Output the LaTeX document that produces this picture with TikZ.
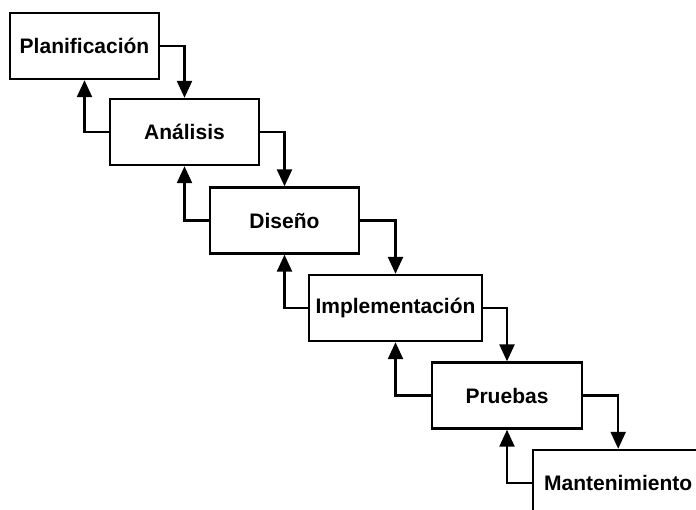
\documentclass[tikz,border=0pt]{standalone}
\usepackage{fontspec}
\setmainfont{Liberation Sans}
\usetikzlibrary{arrows.meta}
\begin{document}
\begin{tikzpicture}[x=1pt,y=-1pt,
  stage/.style={draw, line width=2.4pt, minimum height=66pt, minimum width=149pt,
    inner sep=0pt, fill=white, font=\fontsize{21}{24}\selectfont\bfseries},
  link/.style={line width=2.4pt, -{Triangle[width=15pt,length=17pt]}}]
\useasboundingbox (0,0) rectangle (696,509);
\clip (0,0) rectangle (696,509);

% waterfall stages
\node[stage] (plan) at (84.5,46) {Planificación};
\node[stage] (ana)  at (184.5,132) {Análisis};
\node[stage] (dis)  at (284.5,220.5) {Diseño};
\node[stage, minimum width=173pt] (imp) at (395.5,308) {Implementación};
\node[stage, minimum width=150pt] (pru) at (507,395.5) {Pruebas};
\node[stage, minimum width=170pt, anchor=west] (man) at (532,483) {Mantenimiento};

% forward flow
\draw[link] (plan.east) -| (ana.north);
\draw[link] (ana.east)  -| (dis.north);
\draw[link] (dis.east)  -| (imp.north);
\draw[link] (imp.east)  -| (pru.north);
\draw[link] (pru.east)  -| (man.north);

% feedback
\draw[link] (ana.west) -| (plan.south);
\draw[link] (dis.west) -| (ana.south);
\draw[link] (imp.west) -| (dis.south);
\draw[link] (pru.west) -| (imp.south);
\draw[link] (man.west) -| (pru.south);
\end{tikzpicture}
\end{document}
